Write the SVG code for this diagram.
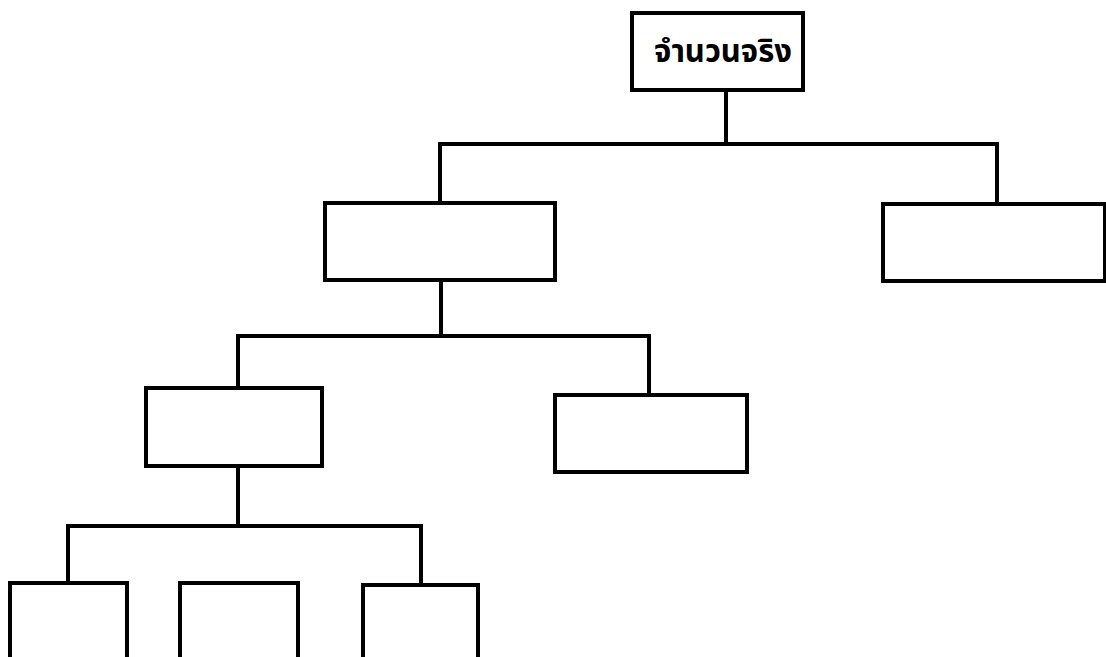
<svg xmlns="http://www.w3.org/2000/svg" width="1106" height="657" viewBox="0 0 1106 657">
<style>
.box{fill:#fff;stroke:#000;stroke-width:4}
.ln{fill:none;stroke:#000;stroke-width:4;stroke-linejoin:miter;stroke-linecap:square}
.t{font-family:"Noto Sans Thai","Tahoma","Loma","Garuda","Noto Sans",sans-serif;font-size:31px;font-weight:bold;fill:#000}
</style>
<rect width="1106" height="657" fill="#fff"/>
<g id="connectors">
<path class="ln" d="M726,90 V144"/>
<path class="ln" d="M440,203 V144 H997 V204"/>
<path class="ln" d="M441,280 V336"/>
<path class="ln" d="M238,388 V336 H649 V395"/>
<path class="ln" d="M238,466 V526"/>
<path class="ln" d="M68,583 V526 H421 V585"/>
</g>
<g id="n-root"><rect class="box" x="632" y="13" width="171" height="77"/><text class="t" x="723" y="62" text-anchor="middle">จำนวนจริง</text></g>
<g id="n-l1a"><rect class="box" x="325" y="203" width="230" height="77"/></g>
<g id="n-l1b"><rect class="box" x="883" y="204" width="222" height="77"/></g>
<g id="n-l2a"><rect class="box" x="146" y="388" width="176" height="78"/></g>
<g id="n-l2b"><rect class="box" x="555" y="395" width="192" height="77"/></g>
<g id="n-l3a"><rect class="box" x="10" y="583" width="117" height="80"/></g>
<g id="n-l3b"><rect class="box" x="180" y="583" width="118" height="80"/></g>
<g id="n-l3c"><rect class="box" x="363" y="585" width="115" height="80"/></g>
</svg>
